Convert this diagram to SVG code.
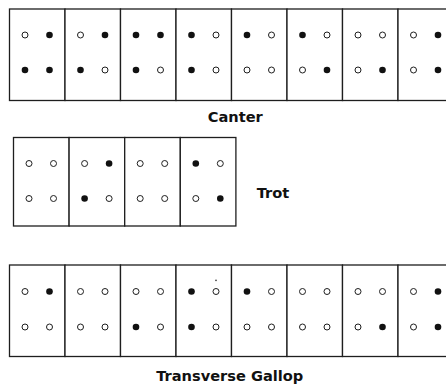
<svg xmlns="http://www.w3.org/2000/svg" xmlns:xlink="http://www.w3.org/1999/xlink" width="446" height="385" viewBox="0 0 446 385">
  <style>
    .cell { fill: #ffffff; stroke: #1e1e1e; stroke-width: 1.3; }
    .label { font-family: "DejaVu Sans", Verdana, sans-serif; font-weight: bold; font-size: 14.6px; fill: #111111; }
  </style>
  <defs>
    <!-- open circle = foot off the ground, filled = foot in contact -->
    <circle id="o" r="3" fill="#ffffff" stroke="#1e1e1e" stroke-width="1"/>
    <circle id="f" r="3.3" fill="#111111"/>
  </defs>
  <rect width="446" height="385" fill="#ffffff"/>

  <!-- Canter: 8 phases -->
  <g id="canter">
    <g id="canter-1" transform="translate(9.5,9)"><rect class="cell" width="55.5" height="91.5"/><use href="#o" x="15.5" y="26"/><use href="#f" x="40" y="26"/><use href="#f" x="15.5" y="61"/><use href="#f" x="40" y="61"/></g>
    <g id="canter-2" transform="translate(65,9)"><rect class="cell" width="55.5" height="91.5"/><use href="#o" x="15.5" y="26"/><use href="#f" x="40" y="26"/><use href="#f" x="15.5" y="61"/><use href="#o" x="40" y="61"/></g>
    <g id="canter-3" transform="translate(120.5,9)"><rect class="cell" width="55.5" height="91.5"/><use href="#f" x="15.5" y="26"/><use href="#f" x="40" y="26"/><use href="#f" x="15.5" y="61"/><use href="#o" x="40" y="61"/></g>
    <g id="canter-4" transform="translate(176,9)"><rect class="cell" width="55.5" height="91.5"/><use href="#f" x="15.5" y="26"/><use href="#o" x="40" y="26"/><use href="#f" x="15.5" y="61"/><use href="#o" x="40" y="61"/></g>
    <g id="canter-5" transform="translate(231.5,9)"><rect class="cell" width="55.5" height="91.5"/><use href="#f" x="15.5" y="26"/><use href="#o" x="40" y="26"/><use href="#o" x="15.5" y="61"/><use href="#o" x="40" y="61"/></g>
    <g id="canter-6" transform="translate(287,9)"><rect class="cell" width="55.5" height="91.5"/><use href="#f" x="15.5" y="26"/><use href="#o" x="40" y="26"/><use href="#o" x="15.5" y="61"/><use href="#f" x="40" y="61"/></g>
    <g id="canter-7" transform="translate(342.5,9)"><rect class="cell" width="55.5" height="91.5"/><use href="#o" x="15.5" y="26"/><use href="#o" x="40" y="26"/><use href="#o" x="15.5" y="61"/><use href="#f" x="40" y="61"/></g>
    <g id="canter-8" transform="translate(398,9)"><rect class="cell" width="55.5" height="91.5"/><use href="#o" x="15.5" y="26"/><use href="#f" x="40" y="26"/><use href="#o" x="15.5" y="61"/><use href="#f" x="40" y="61"/></g>
    <text class="label" x="235.3" y="122.3" text-anchor="middle">Canter</text>
  </g>

  <!-- Trot: 4 phases -->
  <g id="trot">
    <g id="trot-1" transform="translate(13.5,137.5)"><rect class="cell" width="55.6" height="88.5"/><use href="#o" x="15.5" y="26"/><use href="#o" x="40" y="26"/><use href="#o" x="15.5" y="61"/><use href="#o" x="40" y="61"/></g>
    <g id="trot-2" transform="translate(69.1,137.5)"><rect class="cell" width="55.6" height="88.5"/><use href="#o" x="15.5" y="26"/><use href="#f" x="40" y="26"/><use href="#f" x="15.5" y="61"/><use href="#o" x="40" y="61"/></g>
    <g id="trot-3" transform="translate(124.7,137.5)"><rect class="cell" width="55.6" height="88.5"/><use href="#o" x="15.5" y="26"/><use href="#o" x="40" y="26"/><use href="#o" x="15.5" y="61"/><use href="#o" x="40" y="61"/></g>
    <g id="trot-4" transform="translate(180.3,137.5)"><rect class="cell" width="55.6" height="88.5"/><use href="#f" x="15.5" y="26"/><use href="#o" x="40" y="26"/><use href="#o" x="15.5" y="61"/><use href="#f" x="40" y="61"/></g>
    <text class="label" x="256.7" y="197.7">Trot</text>
  </g>

  <!-- Transverse gallop: 8 phases -->
  <g id="gallop">
    <g id="gallop-1" transform="translate(9.5,265)"><rect class="cell" width="55.5" height="91.5"/><use href="#o" x="15.5" y="26.5"/><use href="#f" x="40" y="26.5"/><use href="#o" x="15.5" y="62"/><use href="#o" x="40" y="62"/></g>
    <g id="gallop-2" transform="translate(65,265)"><rect class="cell" width="55.5" height="91.5"/><use href="#o" x="15.5" y="26.5"/><use href="#o" x="40" y="26.5"/><use href="#o" x="15.5" y="62"/><use href="#o" x="40" y="62"/></g>
    <g id="gallop-3" transform="translate(120.5,265)"><rect class="cell" width="55.5" height="91.5"/><use href="#o" x="15.5" y="26.5"/><use href="#o" x="40" y="26.5"/><use href="#f" x="15.5" y="62"/><use href="#o" x="40" y="62"/></g>
    <g id="gallop-4" transform="translate(176,265)"><rect class="cell" width="55.5" height="91.5"/><use href="#f" x="15.5" y="26.5"/><use href="#o" x="40" y="26.5"/><use href="#f" x="15.5" y="62"/><use href="#o" x="40" y="62"/><circle cx="40" cy="15.3" r="0.9" fill="#444444"/></g>
    <g id="gallop-5" transform="translate(231.5,265)"><rect class="cell" width="55.5" height="91.5"/><use href="#f" x="15.5" y="26.5"/><use href="#o" x="40" y="26.5"/><use href="#o" x="15.5" y="62"/><use href="#o" x="40" y="62"/></g>
    <g id="gallop-6" transform="translate(287,265)"><rect class="cell" width="55.5" height="91.5"/><use href="#o" x="15.5" y="26.5"/><use href="#o" x="40" y="26.5"/><use href="#o" x="15.5" y="62"/><use href="#o" x="40" y="62"/></g>
    <g id="gallop-7" transform="translate(342.5,265)"><rect class="cell" width="55.5" height="91.5"/><use href="#o" x="15.5" y="26.5"/><use href="#o" x="40" y="26.5"/><use href="#o" x="15.5" y="62"/><use href="#f" x="40" y="62"/></g>
    <g id="gallop-8" transform="translate(398,265)"><rect class="cell" width="55.5" height="91.5"/><use href="#o" x="15.5" y="26.5"/><use href="#f" x="40" y="26.5"/><use href="#o" x="15.5" y="62"/><use href="#f" x="40" y="62"/></g>
    <text class="label" x="229.7" y="381" text-anchor="middle">Transverse Gallop</text>
  </g>

  <!-- no connectors in this figure -->
  <g id="connectors"/>
</svg>
